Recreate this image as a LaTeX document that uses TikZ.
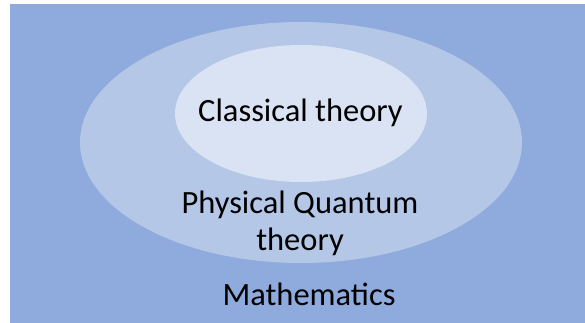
\documentclass[tikz,border=0pt]{standalone}
\usepackage{fontspec}
\setmainfont{Carlito}
\definecolor{bgblue}{HTML}{8FAADC}
\definecolor{midblue}{HTML}{B4C7E7}
\definecolor{lightblue}{HTML}{DAE3F3}
\tikzset{
  lbl/.style={inner sep=0pt, font=\fontsize{32.5}{37}\selectfont, text=black, align=center, anchor=base}
}
\begin{document}
\begin{tikzpicture}[x=1pt,y=-1pt]
\useasboundingbox (0,0) rectangle (585,323);
\fill[bgblue] (10,4) rectangle (585,323);
\fill[midblue] (301,142.5) ellipse [x radius=221, y radius=120.5];
\fill[lightblue] (301,113.5) ellipse [x radius=126, y radius=68.5];
\node[lbl] (classical) at (300.5,122) {Classical theory};
\node[lbl] (quantum) at (300,250) {Physical Quantum\\theory};
\node[lbl] (math) at (309,305) {Mathematics};
\end{tikzpicture}
\end{document}
